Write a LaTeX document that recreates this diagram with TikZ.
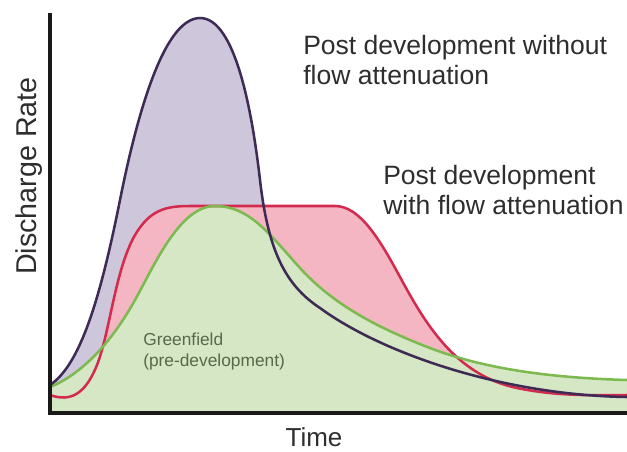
\documentclass[tikz,border=0pt]{standalone}
\usepackage{fontspec}
\setmainfont{Liberation Sans}
\usepackage{tikz}

\definecolor{unattline}{HTML}{3D2A55}
\definecolor{unattfill}{HTML}{CEC6DA}
\definecolor{attenline}{HTML}{D42A4E}
\definecolor{attenfill}{HTML}{F4B6C2}
\definecolor{greenline}{HTML}{7CBA4F}
\definecolor{greenfill}{HTML}{D5E7C5}
\definecolor{greentext}{HTML}{58684A}

% hydrographs as bezier paths (x = time, y = discharge, pixel-like units)
\newcommand{\unattpath}{(50,385) .. controls (80,365) and (100,300) .. (120,200) .. controls (135,125) and (162,18) .. (200,18) .. controls (235,18) and (252,110) .. (260,180) .. controls (268,250) and (285,285) .. (320,308) .. controls (380,352) and (500,395) .. (627,397)}
\newcommand{\attenpath}{(50,395) .. controls (70,402) and (85,395) .. (97,365) .. controls (110,332) and (115,270) .. (135,235) .. controls (150,210) and (165,206) .. (190,206) -- (335,206) .. controls (360,206) and (380,240) .. (400,277) .. controls (425,323) and (455,375) .. (517,388) .. controls (560,397) and (600,395) .. (627,395)}
\newcommand{\greenpath}{(50,387) .. controls (80,375) and (110,345) .. (135,300) .. controls (155,264) and (180,206) .. (215,206) .. controls (250,206) and (270,235) .. (300,268) .. controls (330,301) and (370,325) .. (430,348) .. controls (490,371) and (560,378) .. (627,380)}

\begin{document}
\begin{tikzpicture}[x=0.75pt, y=-0.75pt, curve/.style={line width=1.9pt, line join=round}, lbl/.style={font={\fontsize{19.9}{22.5}\selectfont}, text=black!82, inner sep=0pt, align=left}, axis/.style={line width=3pt, draw=black!90}]
	\useasboundingbox (0,0) rectangle (627,451);
	\coordinate (origin) at (50,413);
	\coordinate (ytop) at (50,13);
	\coordinate (xend) at (627,413);
	% filled areas, back to front
	\fill[unattfill] \unattpath -- (xend) -- (origin) -- cycle;
	\fill[attenfill] \attenpath -- (xend) -- (origin) -- cycle;
	\fill[greenfill] \greenpath -- (xend) -- (origin) -- cycle;
	% curves
	\draw[curve, attenline] \attenpath;
	\draw[curve, greenline] \greenpath;
	\draw[curve, unattline] \unattpath;
	% axes
	\draw[axis] (ytop) -- (origin) -- (xend);
	\node[rotate=90, anchor=base, font={\fontsize{21.5}{24}\selectfont}, text=black!82] (ylabel) at (36,176) {Discharge Rate};
	\node[anchor=base, font={\fontsize{19.5}{22}\selectfont}, text=black!82] (xlabel) at (314,446) {Time};
	\node[lbl, anchor=north west] (unatt) at (303,35) {Post development without\\flow attenuation};
	\node[lbl, anchor=north west] (atten) at (383,165) {Post development\\with flow attenuation};
	\node[anchor=north west, inner sep=0pt, align=left, text=greentext, font={\fontsize{13}{15.75}\selectfont}] (green) at (143,333) {Greenfield\\(pre-development)};
\end{tikzpicture}
\end{document}
